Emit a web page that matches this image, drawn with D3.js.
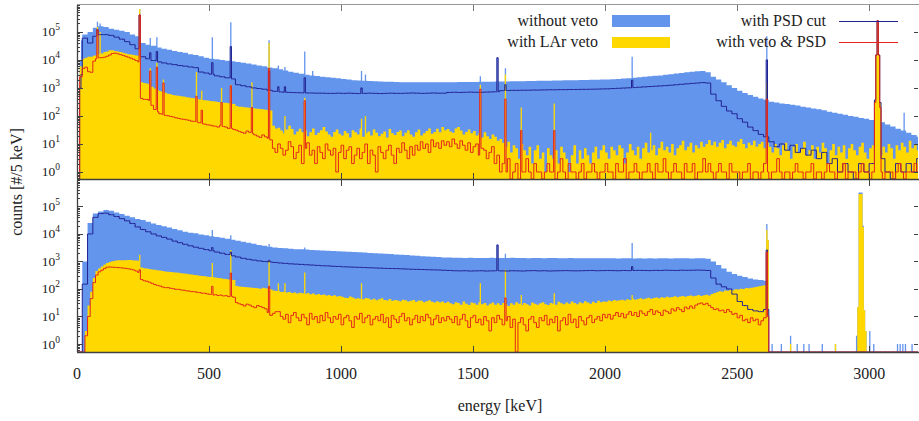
<!DOCTYPE html>
<html><head><meta charset="utf-8">
<script src="https://cdn.jsdelivr.net/npm/d3@7"></script>
<style>body{margin:0;background:#fff;} svg{display:block;font-family:"Liberation Serif","Times New Roman",serif;}</style>
</head><body><svg id="chart" width="919" height="421"></svg>
<script>
// ---------------- data ----------------
const coarseBin = 20;  // keV, bin width of the smooth series (index i covers [20i, 20i+20))
const noisyBin = 10;   // keV, bin width of the low-count series
const fineWidth = 5;   // keV, width of a histogram channel (peaks)
const energyMax = 3185;
const xTickValues = [0, 500, 1000, 1500, 2000, 2500, 3000];
const yTickExponents = [0, 1, 2, 3, 4, 5];
const seriesNames = ["without veto", "with LAr veto", "with PSD cut", "with veto & PSD"];

// ---- top panel ----
const topNoVeto = [0,8e4,1e5,1.4e5,1.6e5,1.5e5,1.3e5,1.2e5,1.1e5,1e5,8e4,7e4,
 4e4,3.5e4,3.2e4,2.8e4,2.5e4,2.3e4,2.1e4,1.9e4,1.8e4,1.6e4,1.5e4,1.35e4,1.2e4,1.1e4,1.05e4,1e4,9300,8900,
 8500,8000,7400,6800,6300,5900,5400,5000,4600,4200,3800,3500,3200,2950,2800,2650,2500,2400,2300,2200,
 2100,2000,1900,1850,1800,1780,1740,1700,1660,1660,1620,1590,1600,1580,1600,1610,1590,1580,1600,1590,
 1600,1610,1620,1620,1630,1640,1650,1660,1670,1680,
 1700,1710,1720,1740,1750,1760,1780,1790,1800,1820,1840,1850,1870,1880,1900,1910,1930,1950,1970,1990,
 2000,2050,2100,2150,2200,2300,2400,2500,2600,2700,2800,2950,3100,3250,3400,3600,3800,3950,4000,3600,
 2500,2000,1600,1250,1000,800,660,560,480,420,380,
 320,300,280,265,250,235,215,200,185,175,160,140,130,120,110,100,93,85,80,72,66,60,50,42,35,30,25,21,18];
const topPSD = [0,6e4,4e4,7e4,8e4,8e4,7.5e4,6.5e4,5.5e4,4.5e4,3.5e4,2.5e4,
 1.3e4,1.1e4,9500,8500,7800,7200,6800,6300,6000,5600,5300,3700,3400,3100,2700,2500,2300,2100,
 1300,1200,1100,1000,950,900,820,760,720,
 700,690,680,670,660,660,650,650,640,640,650,640,650,640,630,640,650,640,630,640,650,640,640,650,660,650,640,650,660,650,650,
 690,700,690,700,710,700,700,710,720,730,
 800,810,820,820,830,830,840,840,850,860,860,870,870,880,880,890,890,900,910,920,
 930,950,970,990,1010,1030,1060,1090,1120,1150,1180,1210,1250,1300,1350,1400,1450,1500,1550,1500,
 600,350,220,150,120,80,60,40,30,22,18,
 12,8,10,6,9,5,7,4,6,3,5,2,3,1,2,1,0,2,1,2,1,3,1,0,2,1,2,1,3];
// 10 keV bins
const topLArVeto = [0,6000,1.1e4,1.2e4,1.3e4,1.3e4,1.4e4,1.5e4,1.6e4,1.7e4,1.9e4,2e4,2.2e4,2.2e4,2.1e4,2e4,
 1.9e4,1.8e4,1.7e4,1.6e4,1.55e4,1.5e4,1.45e4,1.4e4,
 1600,1500,1450,1350,1100,950,850,780,720,680,620,590,560,540,530,510,490,470,460,440,430,410,390,370,
 365,355,345,335,325,315,305,295,295,285,275,265,225,215,212,205,200,195,192,185,182,176,172,166,162,155,45,36,
 38,30,24,33,45,34,22,28,35,26, 30,19,26,36,21,25,31,40,28,22, 18,27,33,23,20,29,24,17,31,26,
 22,35,18,24,28,20,33,25,19,23, 28,17,34,24,21,27,30,19,25,31, 22,18,26,33,20,24,29,36,23,27, 35,26,40,31,
 34,28,25,36,40,30,22,27,33,24,29,20,24,17,26,19,15,22,18,13,
 15,11,8,12,5,9,7,3,10,6, 4,8,2,6,9,3,5,1,7,4, 3,6,2,8,5,3,1,4,9,2, 6,3,7,4,2,5,8,3,6,9,
 5,3,8,6,4,9,7,2,5,10, 6,4,8,3,7,11,5,6,9,4, 7,12,6,8,5,10,4,7,9,13, 6,8,11,5,9,7,12,8,10,14,
 9,12,8,11,14,7,10,13,9,8, 12,15,10,7,11,9,13,8,10,12, 7,11,
 8,5,10,7,4,9,11,6,3,8, 10,5,7,12,4,6,9,3,8,5, 11,7,2,6,10,4,8,5,9,3, 7,10,6,4,8,11,5,3,7,9,
 6,12,4,8,5,10,7,3,9,6, 11,8,5,13,7,9,6];
const topVetoPSD = [0,2500,5000,5500,3800,3600,9000,1.1e4,1.2e4,1.2e4,1.25e4,1.35e4,1.5e4,1.7e4,1.75e4,1.65e4,
 1.55e4,1.45e4,1.35e4,1.25e4,1.15e4,1.05e4,9500,8500,
 420,390,390,360,240,170,140,120,115,105,102,96,92,86,82,78,76,73,70,65,64,60,57,52,51,48,47,44,43,40,
 47,42,40,36,36,33,31,28,26,24,29,26,23,21,19,17,21,18,16,14,7,5,
 10,7,4,6,12,8,3,5,9,2, 7,11,4,6,2,8,5,3,10,6, 4,7,1,5,9,3,6,8,2,4, 7,3,5,10,2,6,4,1,8,5,
 3,6,9,4,2,7,5,11,6,3, 8,4,9,6,12,7,10,5,14,8, 11,7,13,9,
 12,8,15,10,7,13,9,6,11,5,8,10,4,7,6,3,5,8,2,4,
 1,2,1,3,0,1,2,0,1,1, 3,1,0,2,1,1,0,1,2,1, 1,0,1,3,1,0,2,1,1,0, 1,2,0,1,1,2,1,0,1,1,
 2,1,1,0,2,1,1,3,0,1, 1,2,1,0,1,1,2,1,0,2, 1,1,3,1,0,1,2,1,1,0, 2,1,1,2,0,1,1,3,1,2,
 1,0,1,2,1,1,0,2,1,1, 1,0,1,1,2,0,1,1,0,1, 2,1,0,1,1,3,1,0,1,1, 0,1,2,1,1,0,1,1,2,0,
 1,1,0,1,2,1,1,0,1,1, 2,0,1,1,1,0,1,2,1,1, 0,1,1,2,1,0,1,1,1,0, 1,2,1,0,1,1,1,2,1];

const topNoVetoPeaks = [[10,1e4],[15,5e4],[75,2.3e5],[85,2e5],[238,6.5e5],[277,6e4],[300,6.5e4],[511,6.5e4],
 [583,2.2e5],[727,5e4],[763,6300],[785,5600],[860,2e4],[893,4000],[1078,4000],[1093,3000],[1525,2600],
 [1593,1.2e4],[1621,5000],[2104,1.3e4],[2614,7e4],[3020,380],[3025,1.5e4],[3030,2.5e5],[3035,1.5e4],[3040,300],[3130,130]];
const topLArVetoPeaks = [[75,1.5e5],[85,1e5],[238,6.5e5],[277,5000],[300,8000],[328,2000],
 [453,3700],[473,800],[545,1000],[583,1300],[663,1600],[727,4e4],[785,100],[860,450],[1078,80],[1093,100],
 [1525,1300],[1621,3000],[1680,200],[1806,280],[2170,25],[2614,1600],
 [3020,370],[3025,1.5e4],[3030,2.5e5],[3035,1.5e4],[3040,300]];
const topPSDPeaks = [[10,1000],[15,3000],[75,1.2e5],[238,4e5],[277,1.8e4],[300,2e4],[511,8000],[583,3e4],
 [727,4000],[763,1100],[785,1100],[860,2300],[1078,1000],[1593,1.2e4],[1621,1300],[2104,1900],[2614,1e4],
 [3020,370],[3025,1.5e4],[3030,2.5e5],[3035,1.5e4],[3040,300]];
const topVetoPSDPeaks = [[75,1.2e5],[238,4e5],[277,4000],[300,5500],[328,1500],[453,500],
 [473,160],[545,300],[583,1200],[663,200],[727,5000],[860,350],[1525,900],[1621,400],[1680,30],[1806,30],
 [2614,400],[3020,300],[3025,1.5e4],[3030,2.5e5],[3035,1.5e4],[3040,200]];

// ---- bottom panel ----
const botNoVeto = [0,1000,2.5e4,5.5e4,6.5e4,7.4e4,7e4,6e4,5.3e4,4.6e4,4e4,3.5e4,
 3.2e4,2.8e4,2.4e4,2.1e4,1.9e4,1.7e4,1.5e4,1.35e4,1.2e4,1.1e4,1.05e4,9600,8900,8300,7800,7200,6700,6200,
 5600,5200,4800,4400,4000,3700,3400,3200,3100,3000,2900,2800,2750,2700,2600,2550,2500,2450,2400,2350,
 2300,2250,2200,2150,2100,2050,2000,1950,1900,1850,
 1800,1750,1700,1650,1600,1560,1520,1480,1440,1400,
 1380,1360,1350,1340,1350,1340,1330,1340,1350,1330,
 1340,1330,1350,1340,1330,1320,1340,1330,1320,1330,1340,1320,1310,1330,1320,1310,1320,1300,1310,1320,
 1300,1310,1290,1300,1310,1290,1300,1280,1300,1290,1300,1310,1290,1300,1310,1300,1290,1310,1300,1250,
 1000,750,550,420,350,300,270,240,220,210,200,
 0,0,0,0,0,0,0,0,0,0,0,0,0,0,0,0,0,0,0,0,0,0,0,0,0,0,0,0,0];
const botPSD = [0,150,1e4,4e4,5.5e4,5.7e4,5e4,4.3e4,3.6e4,3e4,2.4e4,1.8e4,
 1.45e4,1.2e4,1e4,8500,7500,6500,5500,4800,4200,3700,3300,3000,2700,2450,2200,2000,1800,1600,
 1450,1300,1200,1120,1050,1000,960,920,880,850,820,800,780,760,740,720,700,690,670,660,
 640,630,620,610,600,590,580,570,560,555,550,540,530,520,515,510,500,495,490,480,
 470,460,455,460,450,455,460,450,455,460,
 455,450,460,455,450,460,465,455,460,450,455,460,465,460,455,460,465,470,460,465,
 470,465,460,470,465,470,475,470,465,475,470,480,475,470,480,475,480,485,480,470,
 250,150,120,100,65,35,25,18,16,15,18,
 0,0,0,0,0,0,0,0,0,0,0,0,0,0,0,0,0,0,0,0,0,0,0,0,0,0,0,0,0];
// 10 keV bins
const botLArVeto = [0,0,0,3,25,80,250,450,560,650,780,880,960,1020,1070,1100,1100,1100,1110,1130,1120,1090,1090,1070,
 600,570,550,530,510,495,480,465,450,435,425,415,405,395,385,375,365,355,345,335,325,315,305,295,
 290,280,275,265,260,250,245,235,230,220,218,212,128,122,121,118,116,113,111,108,106,103,112,107,102,98,88,84,
 82,77,80,74,78,72,75,68,73,70, 66,72,64,68,62,66,60,63,58,61, 55,59,53,56,
 52,48,47,53,49,44,46,43,42,47, 45,41,44,39,42,46,40,38,43,37, 40,38,36,41,39,35,37,40,34,38, 37,33,36,39,34,32,36,33,35,31,
 34,30,28,33,31,27,35,29,26,32, 30,27,33,28,31,25,29,32,27,30, 26,31,28,24,30,27,33,29,26,31,
 28,25,32,29,27,30,33,28,26,31, 29,27,34,30,28,32,29,35,31,28, 33,30,36,32,29,34,31,37,33,35,
 34,38,36,40,37,39,41,38,42,40, 44,41,43,46,42,45,48,44,47,49, 46,50,48,52,49,51,54,50,53,56, 52,55,58,54,57,60,56,59,62,58,
 66,72,76,82,80,88,86,92,90,98, 96,102,100,108,106,112,115,120,125,132, 138,145,
 0,0,0,0,0,0,0,0,0,0, 0,0,0,0,0,0,0,0,0,0, 0,0,0,0,0,0,0,0,0,0, 0,0,0,0,0,0,0,0,0,0, 0,0,0,0,0,0,0,0,0,0, 0,0,0,0,0,0,0];
const botVetoPSD = [0,0,0,2,10,45,170,320,420,480,560,620,630,620,610,600,590,575,560,540,520,490,450,400,
 220,200,190,175,160,145,135,128,118,112,112,106,103,97,97,92,90,86,84,80,80,76,74,70,70,66,64,60,62,58,
 60,56,57,53,54,50,32,29,27,24,28,26,23,21,25,23,21,19,14,11,13,15,
 15,10,8,12,6,11,14,9,7,12, 9,5,13,8,10,6,11,7,14,9, 6,10,8,12,5,9,11,7,4,10, 8,13,6,9,11,5,8,10,7,12,
 6,9,4,11,8,6,10,13,7,9, 5,8,11,6,10,7,12,9,5,8, 11,6,9,7,10,8,
 6,10,5,8,12,7,4,9,11,6, 8,5,10,7,3,9,6,11,8,5, 7,10,4,8,0,6,9,5,3,8, 10,6,4,9,7,11,5,8,6,10,
 3,7,9,5,12,6,8,4,10,7, 5,9,11,6,8,10,7,12,
 9,12,8,11,14,10,13,9,12,15, 11,14,10,16,13,11,15,18,12,16, 14,11,17,15,13,19,16,21,18,15, 22,19,24,20,26,29,31,27,30,25,
 21,18,19,16,17,14,18,15,12,13, 9,11,7,8,6,9,7,8,5,7, 9,10,
 0,0,0,0,0,0,0,0,0,0, 0,0,0,0,0,0,0,0,0,0, 0,0,0,0,0,0,0,0,0,0, 0,0,0,0,0,0,0,0,0,0, 0,0,0,0,0,0,0,0,0,0, 0,0,0,0,0,0,0];

const botNoVetoPeaks = [[511,1.4e4],[583,9000],[727,4300],[860,3200],[1593,4000],[1621,1900],[2104,4700],
 [2614,2.3e4],[2619,6000],[2630,1],[2665,1],[2700,2],[2725,1],[2750,1],[2770,1],[2820,1],[2870,1],
 [2950,2],[2955,22],[2960,3.2e5],[2965,3.2e5],[2970,3.2e5],[2975,2e4],[2980,17],[2985,3],[3000,3],
 [3015,1],[3105,1],[3115,1],[3125,1],[3135,1],[3160,1]];
const botLArVetoPeaks = [[238,1750],[511,870],[583,2600],[727,1100],[763,160],[785,160],[860,400],[1078,160],
 [1525,160],[1621,500],[1680,60],[1806,70],[2104,60],[2614,1.4e4],[2619,6000],[2700,1],[2870,1],
 [2955,22],[2960,2.8e5],[2965,2.8e5],[2970,2.8e5],[2975,1.8e4],[2980,17],[2985,3]];
const botPSDPeaks = [[511,3200],[583,2200],[727,1100],[1593,4000],[2104,650],[2614,2600]];
const botVetoPSDPeaks = [[238,500],[511,125],[583,380],[727,125],[1621,47],[2614,2200]];

// ---------------- drawing ----------------
const colors = {noVeto:"#6495ed", lar:"#ffd800", psd:"#202090", vetoPsd:"#e3261b", axis:"#404040"};
const svg = d3.select("#chart");
const x = d3.scaleLinear().domain([0, energyMax]).range([77, 918]);

const panels = [
  {top:5, bottom:179, lo:Math.pow(10,-0.25), hi:Math.pow(10,5.96),
   s:[[topNoVeto,coarseBin],[topLArVeto,noisyBin],[topPSD,coarseBin],[topVetoPSD,noisyBin]],
   p:[topNoVetoPeaks, topLArVetoPeaks, topPSDPeaks, topVetoPSDPeaks]},
  {top:180, bottom:352, lo:Math.pow(10,-0.29), hi:Math.pow(10,5.96),
   s:[[botNoVeto,coarseBin],[botLArVeto,noisyBin],[botPSD,coarseBin],[botVetoPSD,noisyBin]],
   p:[botNoVetoPeaks, botLArVetoPeaks, botPSDPeaks, botVetoPSDPeaks]}
];

function expand(cont, width, peaks) {
  const n = Math.ceil(energyMax / fineWidth);
  const per = width / fineWidth;
  const out = [];
  for (let j = 0; j < n; j++) out.push({e: j * fineWidth, v: cont[Math.floor(j / per)] || 0});
  peaks.forEach(([e, c]) => { const j = Math.floor(e / fineWidth); if (j < n) out[j].v = Math.max(out[j].v, c); });
  out.push({e: n * fineWidth, v: out[n - 1].v});
  return out;
}

panels.forEach((P, pi) => {
  const y = d3.scaleLog().domain([P.lo, P.hi]).range([P.bottom, P.top]).clamp(true);
  const yv = v => y(v > 0 ? v : P.lo);
  const clipId = "clip" + pi;
  svg.append("clipPath").attr("id", clipId).append("rect")
    .attr("x", 77).attr("y", P.top).attr("width", 918 - 77).attr("height", P.bottom - P.top);
  const g = svg.append("g").attr("clip-path", `url(#${clipId})`);
  const area = d3.area().x(d => x(d.e)).y0(P.bottom).y1(d => yv(d.v)).curve(d3.curveStepAfter);
  const line = d3.line().x(d => x(d.e)).y(d => yv(d.v)).curve(d3.curveStepAfter);
  const data = P.s.map(([s, w], k) => expand(s, w, P.p[k]));
  g.append("path").attr("d", area(data[0])).attr("fill", colors.noVeto);
  g.append("path").attr("d", area(data[1])).attr("fill", colors.lar);
  g.append("path").attr("d", line(data[2])).attr("fill", "none").attr("stroke", colors.psd).attr("stroke-width", 1);
  g.append("path").attr("d", line(data[3])).attr("fill", "none").attr("stroke", colors.vetoPsd).attr("stroke-width", 1);

  // frame
  const ax = svg.append("g").attr("stroke", colors.axis).attr("fill", "none");
  ax.append("line").attr("x1", 77.5).attr("x2", 77.5).attr("y1", P.top).attr("y2", P.bottom).attr("stroke-width", 1.3);
  ax.append("line").attr("x1", 77).attr("x2", 919).attr("y1", P.bottom + 0.5).attr("y2", P.bottom + 0.5).attr("stroke-width", 1.3);
  if (pi === 0) ax.append("line").attr("x1", 77).attr("x2", 919).attr("y1", P.top - 0.5).attr("y2", P.top - 0.5).attr("stroke", "#999");
  // y ticks
  for (let k = -1; k <= 5; k++) {
    for (let m = 1; m <= 9; m++) {
      const v = m * Math.pow(10, k);
      if (v < P.lo || v > P.hi) continue;
      const yy = Math.round(y(v)) + 0.5;
      const len = m === 1 ? 6 : 3;
      ax.append("line").attr("x1", 77).attr("x2", 77 + len).attr("y1", yy).attr("y2", yy).attr("stroke-width", 1);
      if (m === 1) ax.append("line").attr("x1", 918).attr("x2", 914).attr("y1", yy).attr("y2", yy).attr("stroke-width", 1);
    }
  }
  // x ticks (top and bottom borders)
  xTickValues.forEach(t => {
    if (t === 0) return;
    const xx = Math.round(x(t)) + 0.5;
    ax.append("line").attr("x1", xx).attr("x2", xx).attr("y1", P.bottom).attr("y2", P.bottom - 6);
    ax.append("line").attr("x1", xx).attr("x2", xx).attr("y1", P.top).attr("y2", P.top + 6).attr("stroke", pi === 0 ? "#777" : colors.axis);
  });
  // y tick labels
  yTickExponents.forEach(ex => {
    const t = svg.append("text").attr("x", 60).attr("y", y(Math.pow(10, ex)) + 4.5)
      .attr("text-anchor", "end").attr("font-size", 13.5).attr("fill", "#222");
    t.append("tspan").text("10");
    t.append("tspan").attr("dy", -6).attr("font-size", 9.5).text(String(ex));
  });
});

// x tick labels and axis titles
xTickValues.forEach(t => {
  svg.append("text").attr("x", x(t)).attr("y", 378.5).attr("text-anchor", "middle")
    .attr("font-size", 16).attr("fill", "#222").text(String(t));
});
svg.append("text").attr("x", 500).attr("y", 411).attr("text-anchor", "middle")
  .attr("font-size", 16).attr("fill", "#222").text("energy [keV]");
svg.append("text").attr("transform", "translate(22,182) rotate(-90)").attr("text-anchor", "middle")
  .attr("font-size", 16).attr("fill", "#222").text("counts [#/5 keV]");

// legend
const lg = svg.append("g").attr("font-size", 16).attr("fill", "#222");
lg.append("text").attr("x", 598).attr("y", 25.5).attr("text-anchor", "end").text(seriesNames[0]);
lg.append("text").attr("x", 598).attr("y", 47).attr("text-anchor", "end").text(seriesNames[1]);
lg.append("text").attr("x", 826).attr("y", 25.5).attr("text-anchor", "end").text(seriesNames[2]);
lg.append("text").attr("x", 826).attr("y", 47).attr("text-anchor", "end").text(seriesNames[3]);
svg.append("rect").attr("x", 612).attr("y", 15).attr("width", 58).attr("height", 12).attr("fill", colors.noVeto);
svg.append("rect").attr("x", 612).attr("y", 37).attr("width", 58).attr("height", 11).attr("fill", colors.lar);
svg.append("line").attr("x1", 839).attr("x2", 898).attr("y1", 21.5).attr("y2", 21.5).attr("stroke", colors.psd);
svg.append("line").attr("x1", 839).attr("x2", 898).attr("y1", 42.5).attr("y2", 42.5).attr("stroke", colors.vetoPsd);
</script>
</body></html>
